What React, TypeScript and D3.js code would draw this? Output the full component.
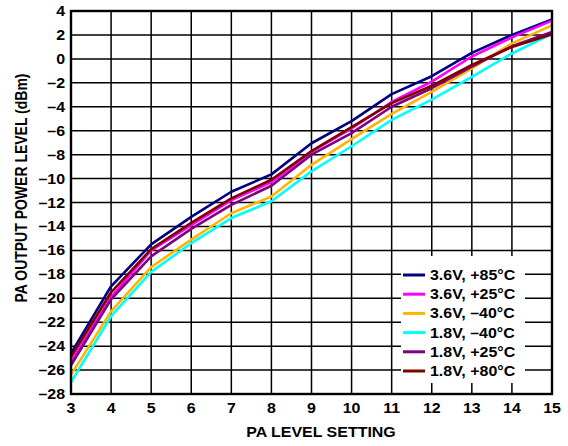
import React from 'react';
import * as d3 from 'd3';

const levels = [3, 4, 5, 6, 7, 8, 9, 10, 11, 12, 13, 14, 15];
const yTicks = d3.range(-28, 5, 2);

const v36p85 = [-24.6, -19.0, -15.5, -13.2, -11.1, -9.65, -7.05, -5.2, -2.95, -1.45, 0.5, 2.0, 3.3];
const v36p25 = [-25.3, -19.9, -16.0, -13.9, -11.8, -10.3, -7.75, -5.8, -3.6, -1.9, 0.2, 1.8, 3.2];
const v36m40 = [-26.4, -21.1, -17.4, -15.1, -12.9, -11.5, -8.85, -6.7, -4.6, -2.75, -0.8, 1.3, 2.8];
const v18m40 = [-27.0, -21.5, -17.8, -15.4, -13.3, -11.9, -9.4, -7.3, -5.1, -3.4, -1.5, 0.45, 2.1];
const v18p25 = [-25.6, -20.1, -16.5, -14.2, -12.2, -10.6, -8.0, -6.2, -4.0, -2.45, -0.65, 1.05, 2.25];
const v18p80 = [-24.9, -19.5, -15.9, -13.7, -11.65, -10.1, -7.7, -5.7, -3.7, -2.25, -0.5, 1.0, 2.05];

const seriesNames = ['3.6V, +85°C', '3.6V, +25°C', '3.6V, –40°C', '1.8V, –40°C', '1.8V, +25°C', '1.8V, +80°C'];
const seriesValues = [v36p85, v36p25, v36m40, v18m40, v18p25, v18p80];
const seriesColors = ['#000080', '#ff00ff', '#ffb400', '#00ffff', '#800080', '#800000'];

const W = 568;
const H = 446;
const margin = { top: 11, right: 16, bottom: 52, left: 71 };
const font = '"Liberation Sans", Arial, Helvetica, sans-serif';
const stretch = 1.14;

const fmt = (v: number) => (v < 0 ? '–' + Math.abs(v) : String(v));

const App: React.FC = () => {
  const x = d3.scaleLinear().domain([3, 15]).range([margin.left, W - margin.right]);
  const y = d3.scaleLinear().domain([-28, 4]).range([H - margin.bottom, margin.top]);

  const line = d3
    .line<number>()
    .x((_, i) => x(levels[i]))
    .y(d => y(d));

  const [x0, x1] = x.range();
  const [y0, y1] = y.range();

  // legend placement
  const legX = 401;
  const legY = 256;
  const rowH = 19.2;

  return (
    <svg
      width={W}
      height={H}
      style={{ position: 'absolute', left: 0, top: 0, background: '#fff' }}
      fontFamily={font}
      fontWeight="bold"
      fontSize={14}
    >
      {/* grid */}
      {levels.map(l => (
        <line key={'gx' + l} x1={x(l)} x2={x(l)} y1={y0} y2={y1} stroke="#000" strokeWidth={1.5} />
      ))}
      {yTicks.map(t => (
        <line key={'gy' + t} x1={x0} x2={x1} y1={y(t)} y2={y(t)} stroke="#000" strokeWidth={1.5} />
      ))}

      {/* legend background */}
      <rect x={legX} y={legY} width={124} height={127} fill="#fff" />

      {/* series */}
      {seriesValues.map((vals, i) => (
        <path
          key={seriesNames[i]}
          d={line(vals) || ''}
          fill="none"
          stroke={seriesColors[i]}
          strokeWidth={2.6}
          strokeLinejoin="round"
        />
      ))}

      {/* frame */}
      <rect x={x0} y={y1} width={x1 - x0} height={y0 - y1} fill="none" stroke="#000" strokeWidth={2.4} />

      {/* legend */}
      {seriesNames.map((name, i) => {
        const cy = legY + 19 + i * rowH;
        return (
          <g key={'leg' + name}>
            <line x1={legX + 2} x2={legX + 24} y1={cy} y2={cy} stroke={seriesColors[i]} strokeWidth={3} />
            <text transform={`translate(${legX + 29},${cy + 5}) scale(${stretch},1)`}>{name}</text>
          </g>
        );
      })}

      {/* x ticks */}
      {levels.map(l => (
        <text
          key={'tx' + l}
          textAnchor="middle"
          transform={`translate(${x(l)},${y0 + 19}) scale(${stretch},1)`}
        >
          {l}
        </text>
      ))}

      {/* y ticks */}
      {yTicks.map(t => (
        <text key={'ty' + t} textAnchor="end" transform={`translate(65,${y(t) + 5}) scale(${stretch},1)`}>
          {fmt(t)}
        </text>
      ))}

      {/* axis titles */}
      <text textAnchor="middle" transform={`translate(321,437) scale(${stretch},1)`}>
        PA LEVEL SETTING
      </text>
      <text textAnchor="middle" transform="translate(27,188) rotate(-90) scale(1,1.14)">
        PA OUTPUT POWER LEVEL (dBm)
      </text>
    </svg>
  );
};

export default App;
